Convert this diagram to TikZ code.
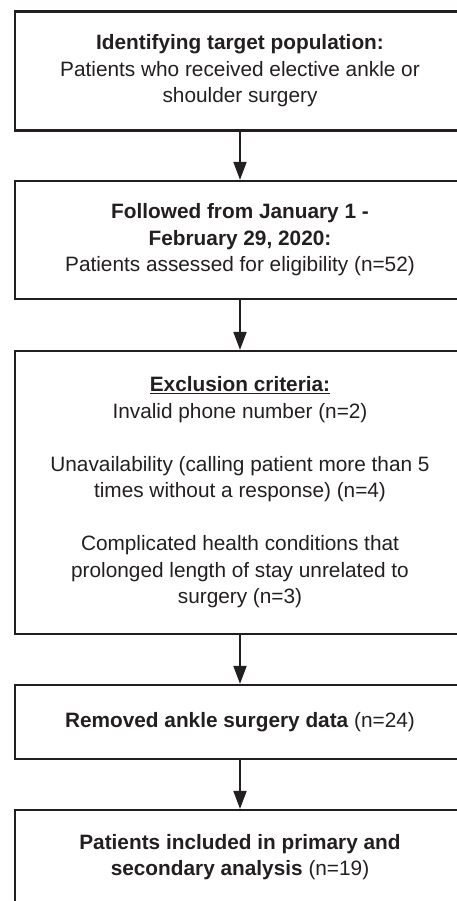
\documentclass[tikz,border=0pt]{standalone}
\usepackage{fontspec}
\setmainfont{Liberation Sans}
\usetikzlibrary{arrows.meta}
\definecolor{inkGray}{HTML}{231F20}

\begin{document}
\begin{tikzpicture}[x=1pt,y=-1pt,
  every node/.style={font=\fontsize{20.8}{26.5}\selectfont,text=inkGray,inner sep=0pt},
  stage/.style={draw=inkGray,line width=2.2pt,minimum width=450pt,align=center},
  e/.style={-{Triangle[width=13pt,length=18pt]},line width=1.9pt,color=inkGray},
]
\useasboundingbox (0,0) rectangle (457,901);
\clip (0,0) rectangle (457,901);

% Flow of patients, top to bottom
\node[stage,minimum height=119pt] (ident)  at (240,71)    {\textbf{Identifying target population:}\\
  Patients who received elective ankle or\\shoulder surgery};
\node[stage,minimum height=118pt] (follow) at (240,240)   {\textbf{Followed from January 1 -}\\
  \textbf{February 29, 2020:}\\Patients assessed for eligibility (n=52)};
\node[stage,minimum height=283pt] (excl)   at (240,492.5) {\underline{\textbf{Exclusion criteria:}}\\
  Invalid phone number (n=2)\\[26.5pt]
  Unavailability (calling patient more than 5\\times without a response) (n=4)\\[26.5pt]
  Complicated health conditions that\\prolonged length of stay unrelated to\\surgery (n=3)};
\node[stage,minimum height=74pt]  (ankle)  at (240,722)   {\textbf{Removed ankle surgery data} (n=24)};
\node[stage,minimum height=94pt]  (incl)   at (240,857)   {\textbf{Patients included in primary and}\\
  \textbf{secondary analysis} (n=19)};

\draw[e] (ident)  -- (follow);
\draw[e] (follow) -- (excl);
\draw[e] (excl)   -- (ankle);
\draw[e] (ankle)  -- (incl);
\end{tikzpicture}
\end{document}
